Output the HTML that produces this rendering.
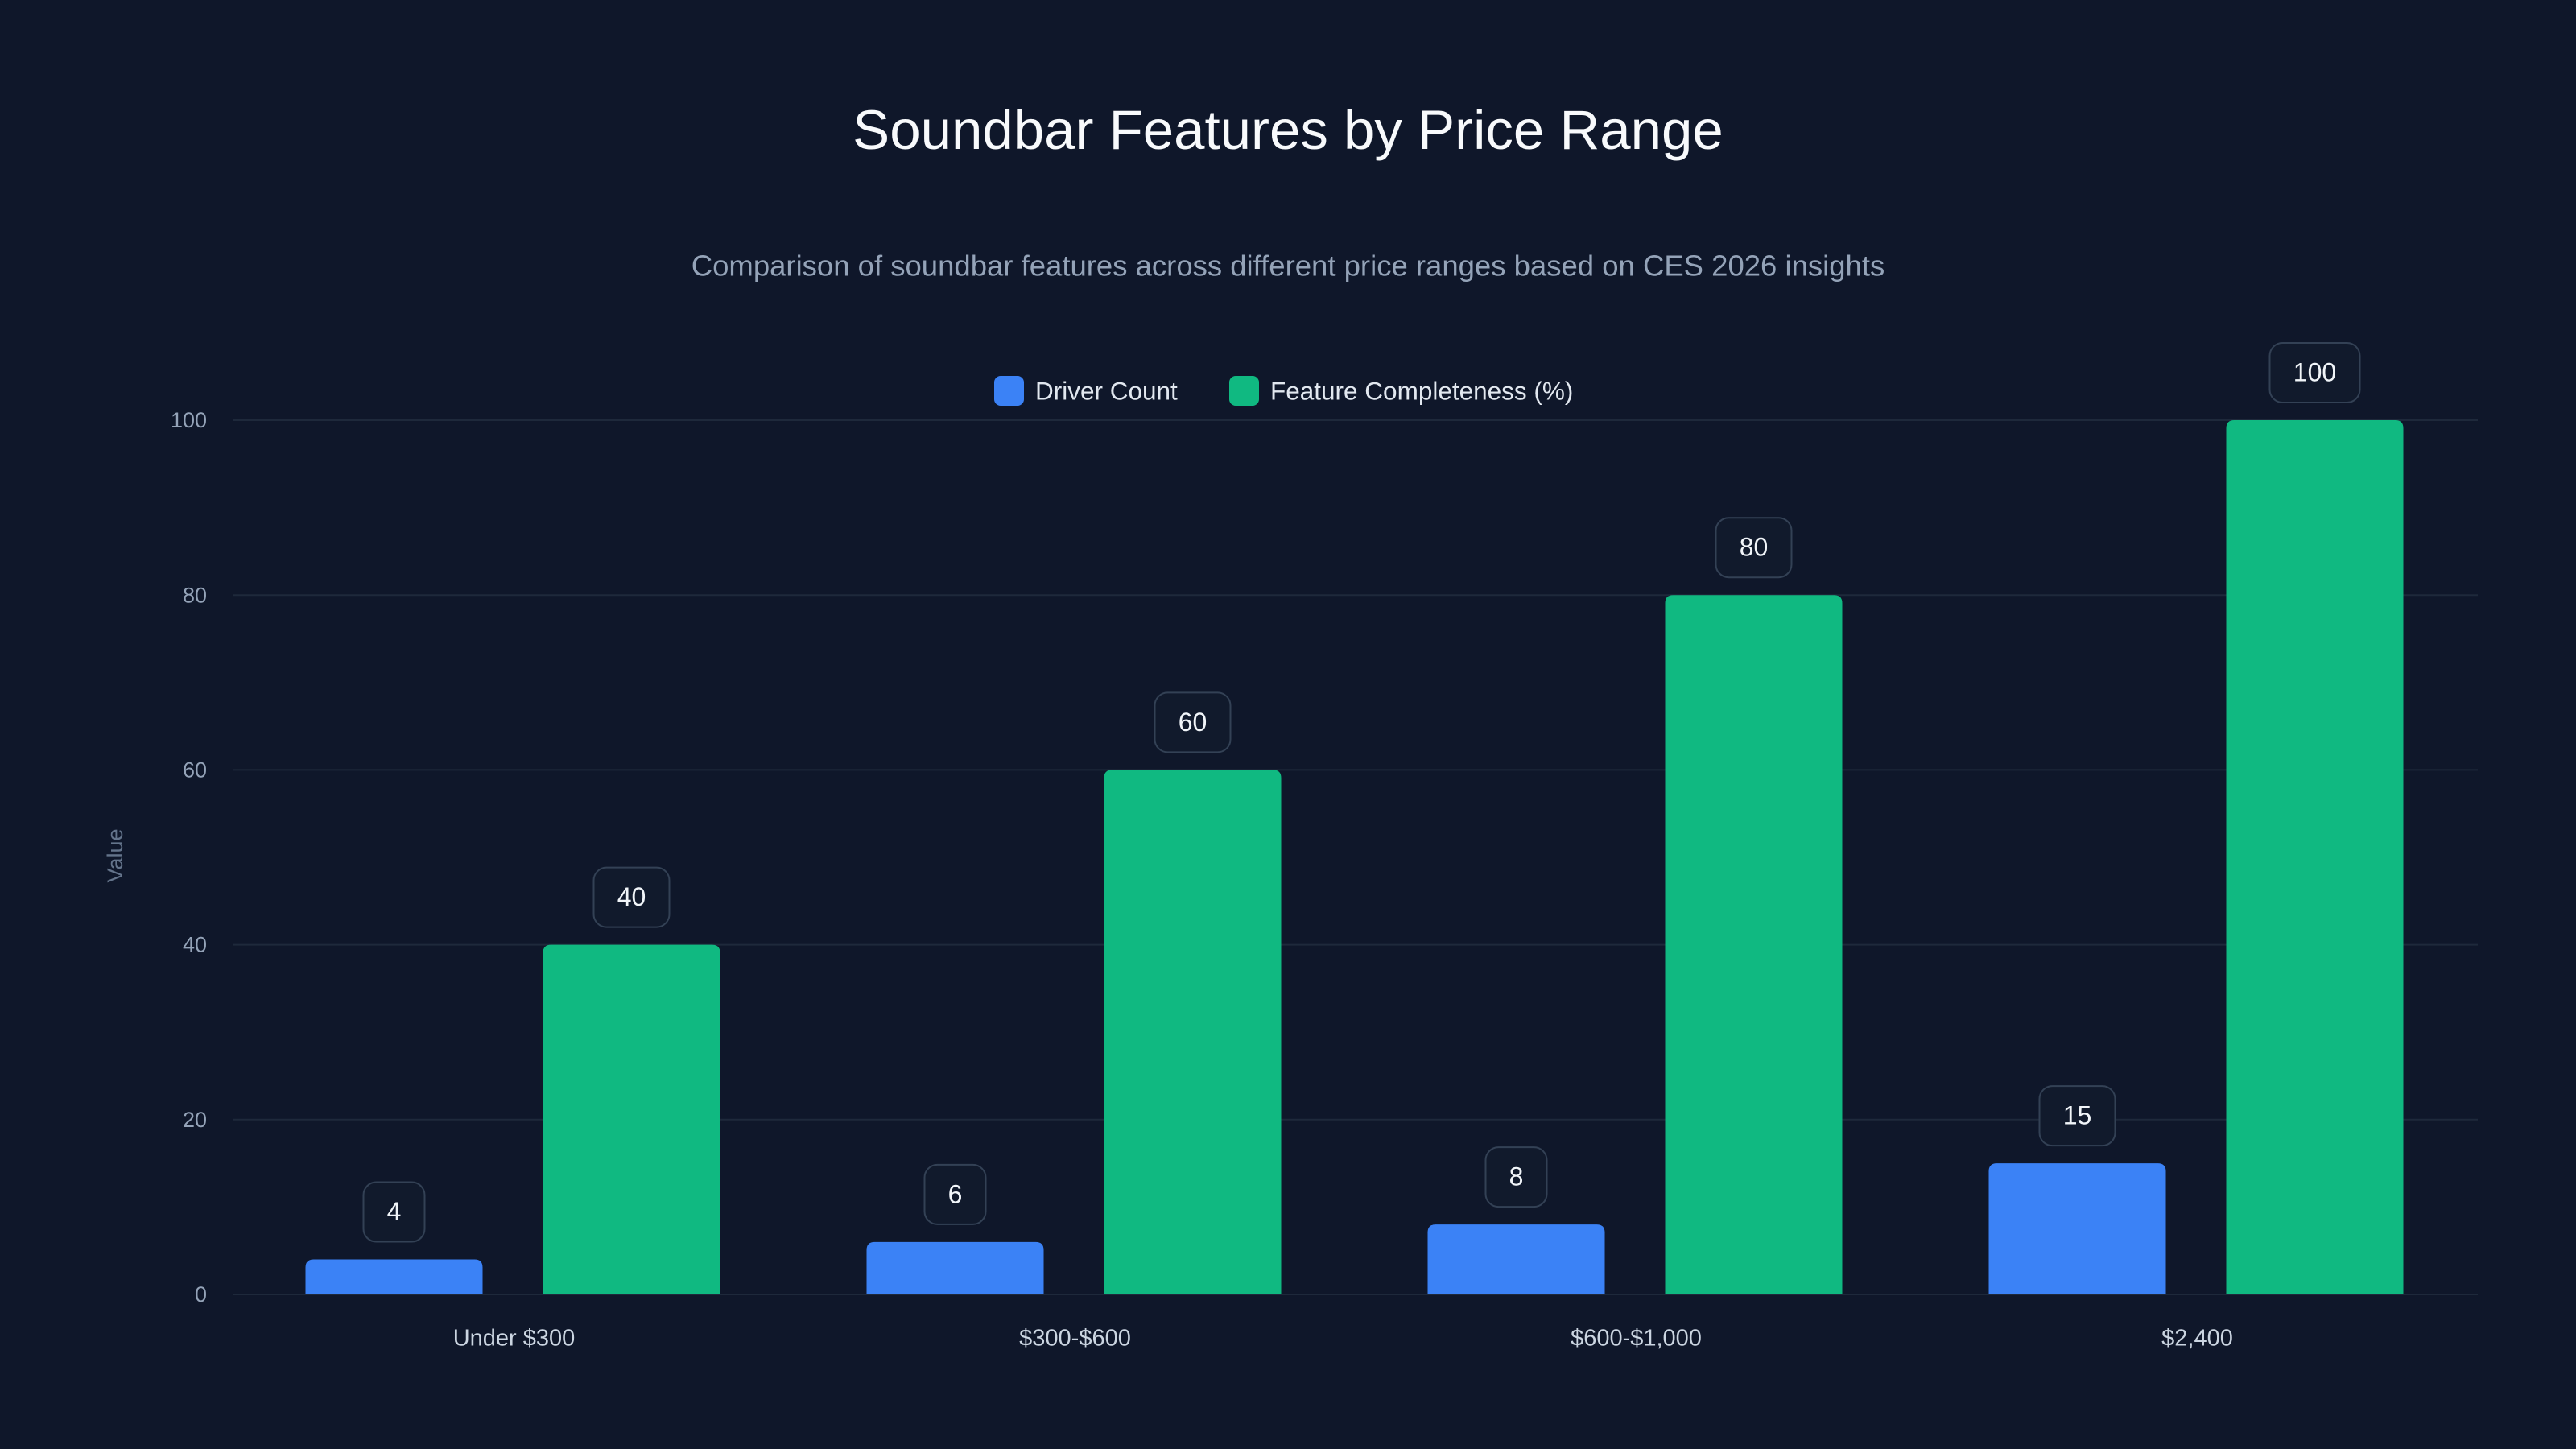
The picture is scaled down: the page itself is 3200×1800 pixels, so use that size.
<!DOCTYPE html>
<html><head><meta charset="utf-8"><style>
html,body{margin:0;padding:0;background:#0f172a;}
svg{display:block;font-family:"Liberation Sans",sans-serif;}
</style></head><body>
<svg id="chart" width="3200" height="1800" viewBox="0 0 3200 1800">
<rect x="0" y="0" width="3200" height="1800" fill="#0f172a"/>
<text x="1600" y="167" text-anchor="middle" dominant-baseline="middle" font-size="69" fill="#f8fafc">Soundbar Features by Price Range</text>
<text x="1600" y="333" text-anchor="middle" dominant-baseline="middle" font-size="36.5" fill="#94a3b8">Comparison of soundbar features across different price ranges based on CES 2026 insights</text>
<g>
<g>
<rect x="1235" y="467" width="37" height="37" rx="8" fill="#3b82f6"/>
<text x="1286" y="488" dominant-baseline="middle" font-size="31.5" fill="#e2e8f0">Driver Count</text>
</g>
<g>
<rect x="1527" y="467" width="37" height="37" rx="8" fill="#10b981"/>
<text x="1578" y="488" dominant-baseline="middle" font-size="31.5" fill="#e2e8f0">Feature Completeness (%)</text>
</g>
</g>
<text x="145" y="1063" text-anchor="middle" dominant-baseline="middle" font-size="27" fill="#64748b" transform="rotate(-90 145 1063)">Value</text>
<g id="grid"></g><g id="bars"></g><g id="labels"></g>
</svg>
<script>
const categories = ["Under $300", "$300-$600", "$600-$1,000", "$2,400"];
const driverCount = [4, 6, 8, 15];
const featureCompleteness = [40, 60, 80, 100];
const yTicks = [0, 20, 40, 60, 80, 100];

const NS = "http://www.w3.org/2000/svg";
const plotLeft = 290, plotRight = 3078, plotTop = 522, plotBottom = 1608, yMax = 100;
const yScale = v => plotBottom - (v / yMax) * (plotBottom - plotTop);
const bandW = (plotRight - plotLeft) / categories.length;
const xc = i => plotLeft + bandW * (i + 0.5);
const barW = 220;
function mk(tag, attrs, parent) {
  const e = document.createElementNS(NS, tag);
  for (const k in attrs) e.setAttribute(k, attrs[k]);
  parent.appendChild(e); return e;
}
const grid = document.getElementById("grid");
yTicks.forEach(t => {
  const l = mk("line", {x1: plotLeft, x2: plotRight, y1: yScale(t), y2: yScale(t), stroke: "#1e293b", "stroke-width": 2}, grid);
  
  
  const tx = mk("text", {x: 257, y: yScale(t) + 2, "text-anchor": "end", "dominant-baseline": "middle", "font-size": 27, fill: "#94a3b8"}, grid);
  tx.textContent = t;
  
  
});
const bars = document.getElementById("bars");
const labels = document.getElementById("labels");
function barPath(x, yt, w, h, r) {
  r = Math.min(r, h, w / 2);
  return `M${x},${yt + h}V${yt + r}Q${x},${yt} ${x + r},${yt}H${x + w - r}Q${x + w},${yt} ${x + w},${yt + r}V${yt + h}Z`;
}
function drawBar(i, v, x, color, series) {
  const yt = yScale(v);
  const p = mk("path", {d: barPath(x, yt, barW, plotBottom - yt, 10), fill: color}, bars);
  
  
  const s = String(v);
  const w = 18 * s.length + 58, h = 74;
  const cx = x + barW / 2, cy = yt - 22 - h / 2;
  const g = mk("g", {}, labels);
  
  
  mk("rect", {x: cx - w / 2, y: cy - h / 2, width: w, height: h, rx: 16, fill: "#111a2c", stroke: "#334155", "stroke-width": 2}, g);
  const t = mk("text", {x: cx, y: cy + 2, "text-anchor": "middle", "dominant-baseline": "middle", "font-size": 32, fill: "#f1f5f9"}, g);
  t.textContent = s;
}
categories.forEach((c, i) => {
  const cx = xc(i);
  drawBar(i, driverCount[i], cx - 259, "#3b82f6", "driver-count");
  drawBar(i, featureCompleteness[i], cx + 36, "#10b981", "feature-completeness");
  const t = mk("text", {x: cx, y: 1664, "text-anchor": "middle", "dominant-baseline": "middle", "font-size": 29, fill: "#cbd5e1"}, labels);
  t.textContent = c;
  
  
});
</script>
</body></html>
